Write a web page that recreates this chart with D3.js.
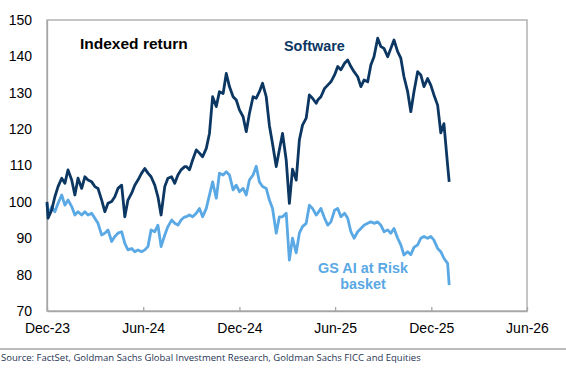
<!DOCTYPE html>
<html>
<head>
<meta charset="utf-8">
<script src="https://cdn.jsdelivr.net/npm/d3@7"></script>
<style>
  body { margin: 0; background: #fff; }
  svg { display: block; }
</style>
</head>
<body>
<div id="chart"></div>
<script>
// dates of the readings (roughly weekly)
var dates = [
  "2023-12-01",
  "2023-12-03","2023-12-10","2023-12-16","2023-12-22","2023-12-29",
  "2024-01-04","2024-01-10","2024-01-17","2024-01-23","2024-01-29",
  "2024-02-05","2024-02-11","2024-02-17","2024-02-24",
  "2024-03-01","2024-03-07","2024-03-14","2024-03-20","2024-03-26",
  "2024-04-02","2024-04-08","2024-04-14","2024-04-21","2024-04-27",
  "2024-05-03","2024-05-10","2024-05-16","2024-05-22","2024-05-29",
  "2024-06-04","2024-06-10","2024-06-16","2024-06-23","2024-06-29",
  "2024-07-05","2024-07-12","2024-07-18","2024-07-25","2024-07-31",
  "2024-08-06","2024-08-12","2024-08-19",
  "2024-08-22","2024-08-28","2024-09-03","2024-09-10","2024-09-16","2024-09-22","2024-09-29",
  "2024-10-05","2024-10-11","2024-10-18","2024-10-24","2024-10-31",
  "2024-11-06","2024-11-12","2024-11-19","2024-11-25",
  "2024-12-01","2024-12-08","2024-12-14","2024-12-20","2024-12-27",
  "2025-01-02","2025-01-08","2025-01-14","2025-01-21","2025-01-27",
  "2025-02-02","2025-02-09","2025-02-15","2025-02-21","2025-02-28",
  "2025-03-06","2025-03-12","2025-03-19","2025-03-25","2025-03-31",
  "2025-04-07","2025-04-13","2025-04-19","2025-04-26",
  "2025-04-29","2025-05-05","2025-05-12","2025-05-18","2025-05-24","2025-05-31",
  "2025-06-06","2025-06-12","2025-06-19","2025-06-25",
  "2025-07-01","2025-07-07","2025-07-14","2025-07-20","2025-07-26",
  "2025-08-02","2025-08-08","2025-08-14","2025-08-21","2025-08-27",
  "2025-09-02","2025-09-09","2025-09-15","2025-09-21","2025-09-28",
  "2025-10-04","2025-10-10","2025-10-17","2025-10-23","2025-10-29",
  "2025-11-05","2025-11-11","2025-11-17","2025-11-24","2025-11-30",
  "2025-12-06","2025-12-13","2025-12-19","2025-12-25",
  "2026-01-01","2026-01-04"
];

var software = [
  100.0,
  95.5, 97.8, 101.4, 104.2, 106.5,
  105.1, 108.8, 106.0, 101.9, 106.5,
  103.7, 106.9, 106.0, 105.5,
  104.2, 103.7, 100.5, 97.3, 99.6,
  100.1, 101.4, 103.7, 104.6, 95.9,
  100.5, 102.4, 104.6, 106.0, 107.9,
  109.2, 107.9, 106.9, 104.6, 101.4,
  96.4, 104.2, 106.5, 106.9, 105.1,
  107.4, 108.8, 109.7,
  109.7, 108.8, 111.5, 114.3, 113.4, 112.4, 114.7,
  118.8, 128.9, 126.2, 130.3, 129.8,
  135.3, 131.7, 128.9, 128.0,
  125.3, 123.4, 119.3, 124.3, 128.9,
  128.5, 130.3, 132.6, 128.9, 121.0,
  116.0, 109.7, 114.3, 118.8, 111.5,
  99.6, 109.0, 106.0, 117.0, 121.1,
  123.0, 129.4, 128.5, 127.1,
  128.0, 128.9, 131.2, 132.1, 133.0, 134.9,
  137.2, 136.3, 138.1, 139.0,
  137.2, 135.8, 134.4, 131.7, 133.5,
  133.0, 137.6, 139.9, 145.0, 142.7,
  142.2, 139.9, 142.2, 144.5, 141.3,
  139.5, 134.4, 130.3, 124.8, 130.3,
  135.8, 134.9, 131.7, 133.9, 132.1,
  129.4, 126.6, 119.0, 121.5,
  110.1, 105.5
];

var aiBasket = [
  99.5,
  96.4, 98.7, 97.3, 99.6, 101.9,
  99.1, 100.5, 98.7, 96.4, 97.3,
  96.4, 97.3, 96.4, 96.9,
  95.5, 94.1, 90.9, 91.4, 92.3,
  89.1, 90.5, 91.4, 91.8, 88.6,
  86.8, 87.2, 86.3, 86.8, 86.3,
  86.8, 87.7, 92.3, 91.8, 93.6,
  87.7, 90.9, 93.2, 95.0, 94.1,
  93.6, 95.0, 95.9,
  95.9, 96.4, 95.9, 96.9, 98.2, 95.9, 98.2,
  101.9, 105.5, 101.0, 107.9, 107.4,
  108.3, 107.4, 103.3, 104.6,
  102.8, 103.7, 101.9, 106.0, 107.4,
  109.8, 105.5, 104.2, 103.7, 100.5,
  98.2, 91.4, 95.9, 95.9, 96.9,
  84.0, 90.0, 86.0, 91.4, 93.2,
  94.1, 99.1, 98.2, 96.4,
  96.9, 98.2, 95.5, 93.6, 94.5, 97.7,
  98.2, 95.9, 96.9, 95.5,
  91.8, 90.0, 91.8, 92.7, 93.6,
  94.1, 94.5, 94.1, 94.5, 93.6,
  91.8, 92.3, 91.4, 92.7, 90.0,
  88.2, 85.4, 86.3, 85.5, 87.5,
  88.2, 90.0, 90.5, 90.0, 90.5,
  89.5, 87.2, 86.3, 84.5,
  83.1, 77.1
];

var xTickDates = ["2023-12-01","2024-06-01","2024-12-01","2025-06-01","2025-12-01","2026-06-01"];
var xTickLabels = ["Dec-23","Jun-24","Dec-24","Jun-25","Dec-25","Jun-26"];
var yTicks = [70, 80, 90, 100, 110, 120, 130, 140, 150];

var parse = d3.timeParse("%Y-%m-%d");

var W = 566, H = 370,
    margin = { top: 20, right: 39, bottom: 59, left: 47 },
    width = W - margin.left - margin.right,
    height = H - margin.top - margin.bottom;

var svg = d3.select("#chart").append("svg")
    .attr("width", W)
    .attr("height", H)
    .style("font-family", "'Liberation Sans', Arial, sans-serif");

var g = svg.append("g").attr("transform", "translate(" + margin.left + "," + margin.top + ")");

var x = d3.scaleTime()
    .domain([parse(xTickDates[0]), parse(xTickDates[xTickDates.length - 1])])
    .range([0, width]);

var y = d3.scaleLinear()
    .domain([70, 150])
    .range([height, 0]);

// frame
g.append("rect")
    .attr("x", 0).attr("y", 0)
    .attr("width", width).attr("height", height)
    .attr("fill", "none")
    .attr("stroke", "#a6a6a6")
    .attr("stroke-width", 1.3);

// x axis: ticks point up into the plot
var xAxis = d3.axisBottom(x)
    .tickValues(xTickDates.map(parse))
    .tickFormat(function(d, i) { return xTickLabels[i]; })
    .tickSizeInner(-4)
    .tickSizeOuter(0)
    .tickPadding(12);

var gx = g.append("g")
    .attr("transform", "translate(0," + height + ")")
    .call(xAxis);
gx.select(".domain").attr("stroke", "#a6a6a6").attr("stroke-width", 1.3);
gx.selectAll(".tick line").attr("stroke", "#a6a6a6").attr("stroke-width", 1.3);
gx.selectAll(".tick text")
    .attr("font-size", 14)
    .attr("fill", "#000")
    .attr("font-family", "'Liberation Sans', Arial, sans-serif");

var yAxis = d3.axisLeft(y)
    .tickValues(yTicks)
    .tickSize(0)
    .tickPadding(15);

var gy = g.append("g").call(yAxis);
gy.select(".domain").attr("stroke", "#a6a6a6").attr("stroke-width", 1.3);
gy.selectAll(".tick text")
    .attr("font-size", 14)
    .attr("fill", "#000")
    .attr("font-family", "'Liberation Sans', Arial, sans-serif");

// lines
var line = function(values) {
    return d3.line()
        .x(function(d, i) { return x(parse(dates[i])); })
        .y(function(d) { return y(d); })(values);
};

g.append("path")
    .attr("d", line(aiBasket))
    .attr("fill", "none")
    .attr("stroke", "#5aa8e4")
    .attr("stroke-width", 2.8)
    .attr("stroke-linejoin", "round");

g.append("path")
    .attr("d", line(software))
    .attr("fill", "none")
    .attr("stroke", "#0b3762")
    .attr("stroke-width", 2.8)
    .attr("stroke-linejoin", "round");

// labels
svg.append("text")
    .attr("x", 80).attr("y", 49)
    .attr("font-size", 15.5)
    .attr("font-weight", "bold")
    .attr("fill", "#000")
    .text("Indexed return");

svg.append("text")
    .attr("x", 284).attr("y", 51)
    .attr("font-size", 14.4)
    .attr("font-weight", "bold")
    .attr("fill", "#0b3762")
    .text("Software");

svg.append("text")
    .attr("x", 363).attr("y", 273)
    .attr("text-anchor", "middle")
    .attr("font-size", 14.4)
    .attr("font-weight", "bold")
    .attr("fill", "#5aa8e4")
    .text("GS AI at Risk");

svg.append("text")
    .attr("x", 363).attr("y", 289)
    .attr("text-anchor", "middle")
    .attr("font-size", 14.4)
    .attr("font-weight", "bold")
    .attr("fill", "#5aa8e4")
    .text("basket");

// source
svg.append("line")
    .attr("x1", 0).attr("x2", W)
    .attr("y1", 349).attr("y2", 349)
    .attr("stroke", "#a6a6a6")
    .attr("stroke-width", 1.3);

svg.append("text")
    .attr("x", 1).attr("y", 361)
    .attr("font-size", 9.5)
    .attr("font-family", "'Open Sans', sans-serif")
    .attr("fill", "#1f3553")
    .text("Source: FactSet, Goldman Sachs Global Investment Research, Goldman Sachs FICC and Equities");
</script>
</body>
</html>
